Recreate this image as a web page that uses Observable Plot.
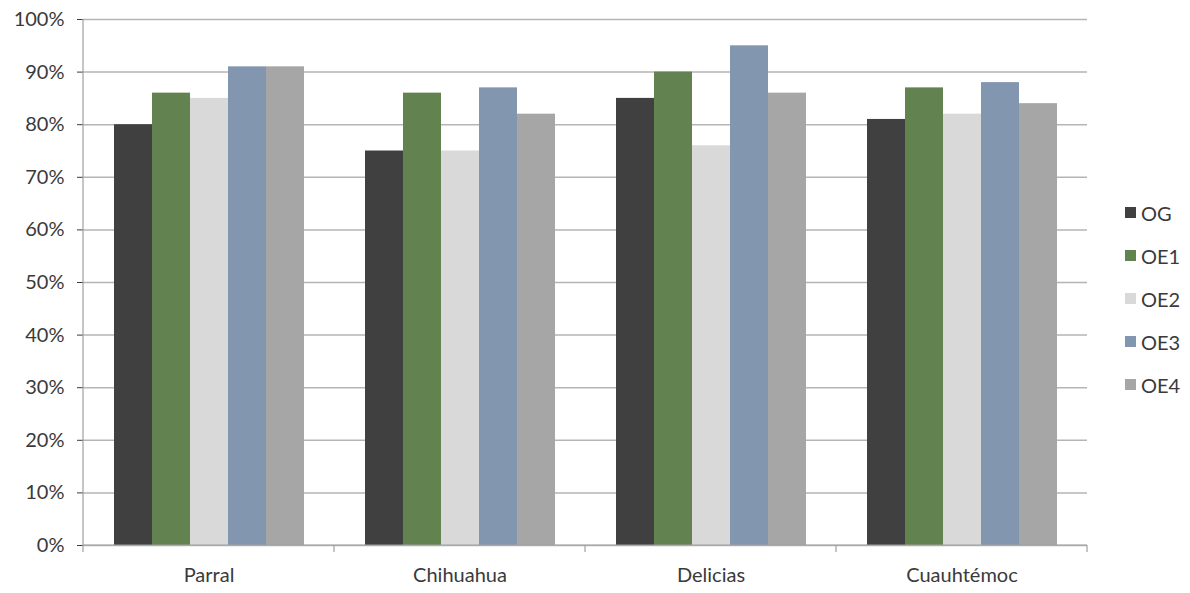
<!DOCTYPE html>
<html>
<head>
<meta charset="utf-8">
<script src="https://cdn.jsdelivr.net/npm/d3@7"></script>
<script src="https://cdn.jsdelivr.net/npm/@observablehq/plot@0.6"></script>
<style>
  html, body { margin: 0; padding: 0; background: #fff; }
  #wrap { position: relative; width: 1190px; height: 593px; font-family: Lato, "Open Sans", sans-serif; }
  #legend { position: absolute; left: 1125px; top: 191px; }
  .item { display: flex; align-items: center; height: 43px; font-size: 20px; color: #3a3a3a; }
  .sw { width: 11px; height: 11px; margin-right: 5px; }
</style>
</head>
<body>
<div id="wrap"><div id="legend"></div></div>
<script>
const categories = ["Parral", "Chihuahua", "Delicias", "Cuauhtémoc"];
const series = ["OG", "OE1", "OE2", "OE3", "OE4"];
const OG  = [80, 75, 85, 81];
const OE1 = [86, 86, 90, 87];
const OE2 = [85, 75, 76, 82];
const OE3 = [91, 87, 95, 88];
const OE4 = [91, 82, 86, 84];
const colors = ["#404040", "#62824f", "#d9d9d9", "#8296b0", "#a6a6a6"];
const yTicks = [0, 0.1, 0.2, 0.3, 0.4, 0.5, 0.6, 0.7, 0.8, 0.9, 1.0];

const values = [OG, OE1, OE2, OE3, OE4];
const data = [];
categories.forEach((c, i) => series.forEach((s, j) => data.push({category: c, series: s, value: values[j][i] / 100})));

const plot = Plot.plot({
  width: 1190, height: 593,
  marginLeft: 82, marginRight: 102, marginTop: 19, marginBottom: 48,
  style: {fontFamily: "Lato, 'Open Sans', sans-serif", fontSize: "20px", color: "#3a3a3a", background: "transparent"},
  fx: {domain: categories, padding: 0, label: null, axis: "bottom", tickSize: 0, tickPadding: 22},
  x: {domain: series, paddingInner: 0, paddingOuter: 0.776, axis: null},
  y: {domain: [0, 1], ticks: yTicks, tickFormat: d3.format(".0%"), label: null, tickSize: 6, tickPadding: 13},
  color: {domain: series, range: colors},
  marks: [
    Plot.ruleY(yTicks, {stroke: "#b5b5b5", strokeWidth: 1.5}),
    Plot.barY(data, {fx: "category", x: "series", y: "value", fill: "series"})
  ]
});

// axis line and category boundary ticks, placed through the plot's own scales
const fxs = plot.scale("fx"), ys = plot.scale("y");
const svg = d3.select(plot);
const y0 = ys.apply(0), y1 = ys.apply(1);
const bounds = categories.map(c => fxs.apply(c));
bounds.push(fxs.apply(categories[categories.length - 1]) + fxs.bandwidth);
const g = svg.append("g").attr("stroke", "#a0a0a0").attr("stroke-width", 1.2);
g.append("line").attr("x1", bounds[0]).attr("x2", bounds[0]).attr("y1", y1).attr("y2", y0);
g.append("line").attr("x1", bounds[0]).attr("x2", bounds[bounds.length - 1]).attr("y1", y0).attr("y2", y0);
bounds.forEach(b => g.append("line").attr("x1", b).attr("x2", b).attr("y1", y0).attr("y2", y0 + 7));

document.getElementById("wrap").prepend(plot);

const legend = d3.select("#legend");
series.forEach((s, j) => {
  const it = legend.append("div").attr("class", "item");
  it.append("div").attr("class", "sw").style("background", colors[j]);
  it.append("span").text(s);
});
</script>
</body>
</html>
